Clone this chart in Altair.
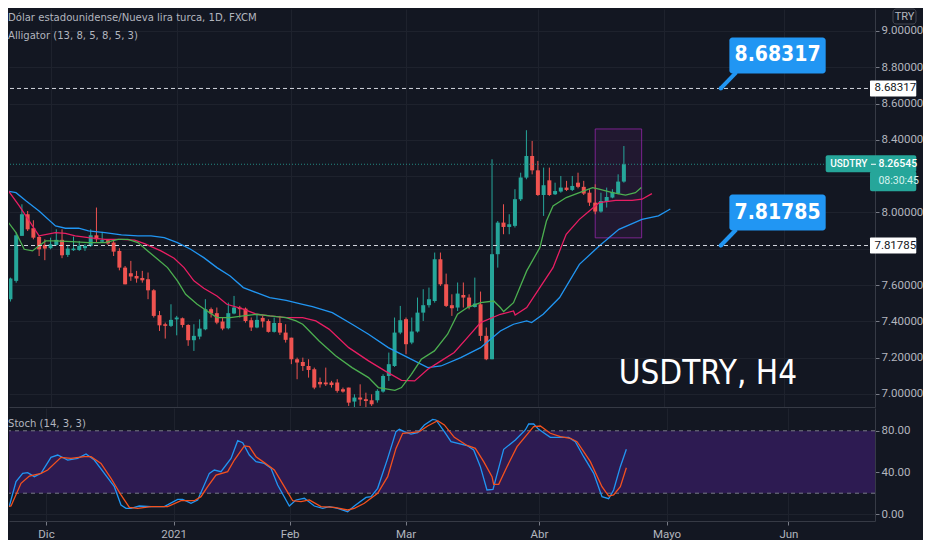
import altair as alt
import pandas as pd

BG = "#131722"
UP = "#26a69a"
DOWN = "#ef5350"
NARROW = "DejaVu Sans Condensed, DejaVu Sans, sans-serif"

# ---------------- candle data (daily bars, index 0 = 1 Dic 2020) ----------------
first_k = -8
opens = [7.687, 7.522, 7.623, 7.871, 7.990, 7.913, 7.865, 7.821, 7.803, 7.821,
         7.849, 7.766, 7.792, 7.793, 7.803, 7.816, 7.874, 7.839, 7.847, 7.834,
         7.788, 7.696, 7.665, 7.650, 7.639, 7.632, 7.571, 7.434, 7.384, 7.375,
         7.411, 7.417, 7.380, 7.296, 7.316, 7.356, 7.467, 7.445, 7.399, 7.362,
         7.443, 7.476, 7.470, 7.406, 7.366, 7.419, 7.402, 7.342, 7.391, 7.338,
         7.310, 7.191, 7.176, 7.154, 7.136, 7.066, 7.063, 7.063, 7.063, 7.026,
         7.035, 6.958, 6.980, 6.971, 6.965, 6.965, 7.013, 7.099, 7.154, 7.338,
         7.412, 7.283, 7.344, 7.448, 7.489, 7.512, 7.742, 7.604, 7.489, 7.476,
         7.545, 7.531, 7.479, 7.494, 7.320, 7.191, 7.770, 7.944, 7.920, 7.926,
         8.073, 8.192, 8.311, 8.232, 8.096, 8.177, 8.100, 8.115, 8.137, 8.124,
         8.164, 8.141, 8.109, 8.054, 8.005, 8.060, 8.082, 8.104, 8.170]
highs = [7.696, 7.641, 7.889, 8.045, 8.008, 7.957, 7.871, 7.852, 7.861, 7.907,
         7.907, 7.821, 7.867, 7.843, 7.825, 7.907, 8.027, 7.893, 7.852, 7.852,
         7.803, 7.705, 7.733, 7.678, 7.678, 7.669, 7.577, 7.457, 7.393, 7.494,
         7.430, 7.421, 7.384, 7.384, 7.411, 7.522, 7.476, 7.476, 7.421, 7.503,
         7.540, 7.485, 7.476, 7.421, 7.439, 7.430, 7.411, 7.421, 7.430, 7.384,
         7.310, 7.200, 7.200, 7.191, 7.145, 7.090, 7.145, 7.072, 7.081, 7.035,
         7.035, 6.998, 7.053, 7.007, 6.998, 7.026, 7.108, 7.228, 7.421, 7.485,
         7.421, 7.421, 7.531, 7.577, 7.586, 7.779, 7.779, 7.663, 7.549, 7.614,
         7.614, 7.549, 7.641, 7.564, 7.366, 8.293, 7.953, 8.045, 7.990, 8.128,
         8.219, 8.453, 8.394, 8.284, 8.247, 8.247, 8.164, 8.201, 8.174, 8.201,
         8.219, 8.174, 8.128, 8.155, 8.109, 8.137, 8.128, 8.210, 8.366]
lows = [7.512, 7.509, 7.613, 7.871, 7.898, 7.852, 7.760, 7.737, 7.797, 7.816,
        7.748, 7.755, 7.788, 7.788, 7.788, 7.810, 7.834, 7.834, 7.821, 7.760,
        7.681, 7.604, 7.623, 7.613, 7.613, 7.522, 7.421, 7.347, 7.305, 7.369,
        7.323, 7.366, 7.265, 7.237, 7.301, 7.351, 7.421, 7.384, 7.351, 7.356,
        7.439, 7.421, 7.393, 7.347, 7.362, 7.366, 7.338, 7.338, 7.325, 7.283,
        7.164, 7.081, 7.127, 7.090, 7.026, 7.035, 7.044, 7.035, 7.007, 7.007,
        6.934, 6.928, 6.934, 6.925, 6.934, 6.952, 7.007, 7.072, 7.149, 7.329,
        7.219, 7.274, 7.338, 7.402, 7.476, 7.503, 7.595, 7.479, 7.430, 7.457,
        7.476, 7.466, 7.476, 7.292, 7.186, 7.191, 7.696, 7.880, 7.880, 7.917,
        8.063, 8.183, 8.210, 8.091, 7.981, 8.091, 8.096, 8.109, 8.118, 8.118,
        8.133, 8.096, 8.036, 7.990, 7.999, 8.027, 8.078, 8.100, 8.164]
closes = [7.525, 7.636, 7.874, 7.990, 7.907, 7.861, 7.797, 7.801, 7.825, 7.849,
          7.764, 7.801, 7.801, 7.816, 7.816, 7.874, 7.852, 7.847, 7.829, 7.784,
          7.696, 7.604, 7.647, 7.636, 7.626, 7.571, 7.430, 7.378, 7.375, 7.408,
          7.421, 7.380, 7.296, 7.320, 7.360, 7.467, 7.443, 7.393, 7.360, 7.445,
          7.476, 7.467, 7.402, 7.366, 7.408, 7.399, 7.342, 7.391, 7.338, 7.298,
          7.191, 7.173, 7.154, 7.132, 7.035, 7.053, 7.053, 7.049, 7.017, 7.013,
          6.952, 6.980, 6.969, 6.961, 6.943, 7.017, 7.099, 7.164, 7.338, 7.406,
          7.274, 7.344, 7.448, 7.489, 7.522, 7.742, 7.604, 7.485, 7.472, 7.553,
          7.531, 7.479, 7.498, 7.320, 7.191, 7.770, 7.944, 7.920, 7.935, 8.073,
          8.192, 8.311, 8.232, 8.096, 8.150, 8.096, 8.118, 8.137, 8.124, 8.146,
          8.141, 8.104, 8.054, 8.005, 8.063, 8.085, 8.113, 8.170, 8.265]

# ---------------- Alligator ----------------
jaw_k = [-7.76, -6.03, -4.31, -2.01, 0.86, 2.59, 4.89, 6.61, 9.48, 12.36, 15.23, 17.53,
         19.83, 22.13, 24.43, 26.72, 29.02, 31.32, 33.62, 35.92, 38.22, 41.09, 43.97,
         45.69, 49.14, 52.59, 55.46, 58.91, 62.36, 65.80, 68.10, 71.55, 75.0, 78.45,
         80.75, 83.05, 83.91, 85.92, 88.79, 92.24, 95.69, 99.14, 103.16, 106.03, 108.1]
jaw_p = [8.119, 8.109, 8.064, 8.008, 7.926, 7.913, 7.913, 7.898, 7.889, 7.876, 7.871, 7.871,
         7.861, 7.834, 7.797, 7.751, 7.696, 7.650, 7.586, 7.558, 7.531, 7.516, 7.494,
         7.481, 7.448, 7.384, 7.329, 7.255, 7.200, 7.145, 7.154, 7.200, 7.255, 7.347,
         7.384, 7.402, 7.393, 7.439, 7.531, 7.714, 7.815, 7.907, 7.962, 7.981, 8.019]
teeth_k = [-7.76, -5.46, -2.01, 0.86, 2.59, 4.31, 6.61, 9.48, 12.36, 14.66, 16.38, 19.25,
           21.55, 23.28, 25.0, 26.72, 29.02, 30.75, 33.62, 35.92, 38.22, 41.09, 43.97,
           46.26, 48.56, 52.01, 55.46, 58.33, 61.21, 63.51, 65.80, 68.10, 70.40, 72.70,
           75.0, 78.45, 80.75, 81.03, 83.05, 85.34, 87.64, 89.94, 92.24, 93.97, 95.69,
           98.56, 101.44, 103.16, 104.89]
teeth_p = [8.137, 8.036, 7.871, 7.889, 7.885, 7.871, 7.861, 7.852, 7.852, 7.847, 7.828, 7.788,
           7.748, 7.696, 7.623, 7.582, 7.540, 7.494, 7.467, 7.439, 7.430, 7.421, 7.421,
           7.402, 7.357, 7.255, 7.182, 7.127, 7.075, 7.072, 7.136, 7.182, 7.228, 7.310,
           7.393, 7.439, 7.457, 7.435, 7.476, 7.586, 7.696, 7.880, 7.962, 8.008, 8.054,
           8.067, 8.067, 8.073, 8.104]
lips_k = [-7.76, -6.03, -4.60, -3.16, -2.01, -0.86, 0.86, 3.74, 6.61, 9.48, 11.78, 13.51,
          15.23, 16.95, 18.68, 20.40, 22.13, 23.56, 25.57, 27.30, 29.02, 31.32, 33.62,
          35.92, 38.22, 41.09, 42.82, 43.97, 44.54, 45.69, 46.84, 49.71, 52.59, 55.46,
          57.18, 60.06, 61.21, 62.93, 64.66, 66.95, 69.25, 70.98, 72.70, 75.0, 77.30,
          78.45, 79.02, 80.75, 83.05, 85.34, 86.49, 87.64, 89.94, 92.24, 94.54, 95.69,
          97.99, 100.29, 102.01, 103.05]
lips_p = [7.962, 7.889, 7.797, 7.788, 7.816, 7.843, 7.843, 7.839, 7.834, 7.834, 7.852, 7.852,
          7.834, 7.788, 7.742, 7.696, 7.623, 7.549, 7.494, 7.457, 7.421, 7.421, 7.430,
          7.439, 7.430, 7.421, 7.402, 7.384, 7.366, 7.329, 7.292, 7.210, 7.145, 7.090,
          7.035, 7.020, 7.035, 7.108, 7.191, 7.237, 7.329, 7.439, 7.476, 7.503, 7.512,
          7.476, 7.454, 7.503, 7.678, 7.806, 7.953, 8.036, 8.082, 8.109, 8.137, 8.128,
          8.109, 8.096, 8.109, 8.137]

# ---------------- Stochastic (14, 3, 3) ----------------
stk_k = [-7.76, -6.32, -5.17, -4.02, -3.16, -2.01, -0.86, 0.86, 2.01, 3.74, 5.46, 6.90,
         8.33, 10.06, 11.78, 12.93, 13.79, 14.66, 16.09, 18.10, 20.40, 22.70, 23.56,
         25.0, 26.15, 28.16, 29.02, 30.17, 31.90, 33.05, 33.91, 35.06, 36.21, 37.64,
         38.79, 39.94, 41.95, 43.10, 44.54, 46.26, 47.70, 48.85, 50.29, 52.01, 53.16,
         55.17, 56.03, 57.18, 58.91, 60.34, 60.92, 61.78, 62.93, 64.08, 65.23, 66.67,
         67.24, 68.68, 69.83, 72.59, 73.74, 74.89, 76.03, 77.07, 78.91, 80.92, 82.64,
         83.22, 84.08, 84.94, 86.95, 88.68, 90.11, 91.26, 92.70, 94.43, 95.86, 97.01,
         97.87, 99.02, 100.06]
stk_v = [7.1, 7.7, 31.1, 39.1, 39.7, 35.9, 39.1, 54.5, 56.7, 51.9, 53.5, 57.7,
         51.9, 39.1, 26.3, 8.7, 5.5, 5.5, 7.7, 7.1, 7.1, 14.1, 14.1,
         10.3, 13.5, 39.1, 42.3, 40.7, 53.5, 70.5, 68.6, 56.7, 50.3, 48.7,
         43.9, 27.9, 7.7, 13.5, 15.1, 7.7, 5.5, 7.1, 5.5, 2.2, 7.7,
         16.0, 16.7, 24.7, 53.5, 79.2, 81.4, 79.2, 76.9, 78.2, 85.6, 91.0,
         90.4, 79.2, 69.5, 65.8, 61.5, 45.5, 23.1, 23.7, 62.2, 71.2, 80.8,
         86.5, 86.5, 81.4, 73.7, 73.7, 73.7, 69.5, 55.1, 39.1, 16.7, 14.7,
         23.1, 45.5, 62.2]
std_k = [-7.76, -6.03, -4.31, -2.87, -0.86, 0.29, 2.59, 4.31, 6.61, 7.76, 9.48, 11.21,
         12.93, 14.37, 15.80, 18.10, 20.98, 23.28, 25.57, 26.72, 27.87, 29.31, 31.32,
         32.47, 34.20, 35.06, 36.21, 37.64, 39.37, 41.09, 42.53, 43.97, 45.40, 47.41,
         49.71, 52.01, 53.16, 54.89, 56.03, 57.18, 58.91, 60.34, 61.49, 62.93, 64.37,
         65.80, 67.53, 68.68, 70.40, 72.59, 74.02, 75.46, 76.90, 77.18, 78.05, 79.48,
         81.21, 82.64, 84.08, 85.23, 86.95, 88.68, 90.40, 91.55, 93.85, 95.86, 97.01,
         97.87, 99.02, 100.06]
std_v = [6.4, 7.7, 29.5, 36.5, 39.1, 42.3, 54.5, 53.5, 55.1, 55.1, 48.7, 34.3,
         18.3, 6.4, 5.5, 7.1, 7.1, 12.8, 12.8, 16.7, 26.3, 37.5, 40.7,
         51.9, 65.4, 64.7, 55.1, 49.4, 42.3, 26.3, 12.8, 11.9, 13.5, 7.1,
         6.4, 3.9, 5.5, 10.3, 15.1, 19.9, 35.9, 63.1, 77.6, 78.2, 79.2,
         84.6, 89.7, 85.6, 73.7, 65.9, 63.1, 50.3, 35.9, 28.5, 28.5, 45.5,
         64.7, 74.4, 84.0, 84.6, 77.6, 74.4, 72.8, 69.5, 50.3, 26.3, 17.3,
         18.3, 26.3, 44.5]

# ---------------- axes / levels ----------------
month_ticks = [0, 22, 42, 62, 85, 107, 128]
month_labels = ["Dic", "2021", "Feb", "Mar", "Abr", "Mayo", "Jun"]
price_ticks = [7.0, 7.2, 7.4, 7.6, 7.8, 8.0, 8.2, 8.4, 8.6, 8.8, 9.0]
hidden_price_labels = [7.8, 8.2]
stoch_ticks = [0, 40, 80]
stoch_band = [20, 80]
level_prices = [8.68317, 7.81785]
level_labels = ["8.68317", "7.81785"]
last_price = 8.26545
symbol = "USDTRY"
countdown = "08:30:45"
zone_k = [95.0, 103.1]
zone_p = [7.860, 8.460]

X_DOMAIN = [-6.38, 142.93]
P_DOMAIN = [6.928, 9.121]
S_DOMAIN = [-6.7, 101.9]
W = 866

# ---------------- frames ----------------
candles = pd.DataFrame({
    "k": list(range(first_k, first_k + len(opens))),
    "open": opens, "high": highs, "low": lows, "close": closes,
})
gator = pd.concat([
    pd.DataFrame({"k": jaw_k, "p": jaw_p, "s": "jaw"}),
    pd.DataFrame({"k": teeth_k, "p": teeth_p, "s": "teeth"}),
    pd.DataFrame({"k": lips_k, "p": lips_p, "s": "lips"}),
])
levels = pd.DataFrame({"p": level_prices, "label": level_labels})
stoch = pd.concat([
    pd.DataFrame({"k": stk_k, "v": stk_v, "s": "K"}),
    pd.DataFrame({"k": std_k, "v": std_v, "s": "D"}),
])

xscale = alt.Scale(domain=X_DOMAIN, nice=False, zero=False)
pscale = alt.Scale(domain=P_DOMAIN, nice=False, zero=False)
sscale = alt.Scale(domain=S_DOMAIN, nice=False, zero=False)


def month_expr():
    e = "''"
    for t, l in reversed(list(zip(month_ticks, month_labels))):
        e = f"datum.value == {t} ? '{l}' : {e}"
    return e


hide = " || ".join(f"abs(datum.value - {v}) < 0.001" for v in hidden_price_labels)

x_axis_main = alt.Axis(values=month_ticks, labels=False, ticks=False, grid=True,
                       domain=True, title=None)
x_axis_stoch = alt.Axis(values=month_ticks, labelExpr=month_expr(), ticks=True,
                        tickSize=4, grid=True, domain=True, title=None,
                        labelPadding=3)
p_axis = alt.Axis(orient="right", values=price_ticks, grid=True, domain=True,
                  tickSize=4, labelPadding=2, title=None,
                  labelExpr=f"({hide}) ? '' : format(datum.value, '.5f')")
s_axis = alt.Axis(orient="right", values=stoch_ticks, grid=True, domain=True,
                  tickSize=4, labelPadding=2, title=None, format=".2f")


def XM(f="k"):
    return alt.X(f"{f}:Q", scale=xscale, axis=x_axis_main)


def YP(f="p"):
    return alt.Y(f"{f}:Q", scale=pscale, axis=p_axis)


def XS(f="k"):
    return alt.X(f"{f}:Q", scale=xscale, axis=x_axis_stoch)


def YS(f="v"):
    return alt.Y(f"{f}:Q", scale=sscale, axis=s_axis)


candle_color = alt.condition("datum.close >= datum.open", alt.value(UP), alt.value(DOWN))

wicks = alt.Chart(candles).mark_rule(strokeWidth=1, clip=True).encode(
    x=XM(), y=YP("low"), y2=alt.Y2("high:Q"), color=candle_color)
bodies = alt.Chart(candles).mark_bar(size=4, clip=True).encode(
    x=XM(), y=YP("open"), y2=alt.Y2("close:Q"), color=candle_color)

gator_lines = []
for name, col in [("jaw", "#2196f3"), ("teeth", "#e91e63"), ("lips", "#4caf50")]:
    gator_lines.append(
        alt.Chart(gator).transform_filter(f"datum.s == '{name}'")
        .mark_line(color=col, strokeWidth=1.3, clip=True)
        .encode(x=XM(), y=YP())
    )

level_lines = alt.Chart(levels).mark_rule(color="#d1d4dc", strokeDash=[4, 3],
                                          strokeWidth=1).encode(y=YP())
last_df = pd.DataFrame({"p": [last_price], "sym": [symbol],
                        "txt": [f"{last_price:.5f}"], "cd": [countdown]})
last_line = alt.Chart(last_df).mark_rule(color=UP, strokeDash=[1, 2],
                                         strokeWidth=1, opacity=0.8).encode(y=YP())

zone_df = pd.DataFrame({"k0": [zone_k[0]], "k1": [zone_k[1]],
                        "p0": [zone_p[0]], "p1": [zone_p[1]]})
zone = alt.Chart(zone_df).mark_rect(fill="#9c27b0", fillOpacity=0.10,
                                    stroke="#9c27b0", strokeOpacity=0.75,
                                    strokeWidth=1).encode(
    x=XM("k0"), x2=alt.X2("k1:Q"), y=YP("p0"), y2=alt.Y2("p1:Q"))

# callouts anchored on the two levels
ANCHOR_K, TIP_K, BOX_K0, BOX_K1, TEXT_K = 116.9, 119.6, 118.4, 135.2, 126.8
callout = alt.Chart(levels).transform_calculate(
    ka=str(ANCHOR_K), kt=str(TIP_K), kb0=str(BOX_K0), kb1=str(BOX_K1), kx=str(TEXT_K),
    ax0="142.93", ax1="151.0", axt="143.7")
c_box = callout.mark_rect(color="#2196f3", cornerRadius=3, yOffset=-51,
                          y2Offset=-15).encode(
    x=XM("kb0"), x2=alt.X2("kb1:Q"), y=YP(), y2=alt.Y2("p:Q"))
c_ptr = callout.mark_rule(color="#2196f3", strokeWidth=4, y2Offset=-16).encode(
    x=XM("ka"), x2=alt.X2("kt:Q"), y=YP(), y2=alt.Y2("p:Q"))
c_dot = callout.mark_point(color="#2196f3", filled=True, size=18, opacity=1).encode(
    x=XM("ka"), y=YP())
c_txt = callout.mark_text(color="white", font=NARROW, fontWeight="bold", fontSize=21,
                          baseline="middle", dy=-33).encode(
    x=XM("kx"), y=YP(), text="label:N")
ax_box = callout.mark_rect(color="white", cornerRadius=1, yOffset=-8, y2Offset=8,
                           clip=False).encode(
    x=XM("ax0"), x2=alt.X2("ax1:Q"), y=YP(), y2=alt.Y2("p:Q"))
ax_txt = callout.mark_text(color=BG, font="Roboto", fontSize=11.5, align="left",
                           baseline="middle", clip=False).encode(
    x=XM("axt"), y=YP(), text="label:N")

# last price label
lp = alt.Chart(last_df).transform_calculate(
    a0="135.2", a1="151.0", b0="142.93", t0="143.1", t1="143.97",
    tx="136.0", vx="144.4")
lp_box1 = lp.mark_rect(color=UP, cornerRadius=2, yOffset=-9, y2Offset=8).encode(
    x=XM("a0"), x2=alt.X2("a1:Q"), y=YP(), y2=alt.Y2("p:Q"))
lp_box2 = lp.mark_rect(color=UP, cornerRadius=2, yOffset=7, y2Offset=27).encode(
    x=XM("b0"), x2=alt.X2("a1:Q"), y=YP(), y2=alt.Y2("p:Q"))
lp_sym = lp.mark_text(color="white", font="Roboto", fontSize=10, fontWeight=500,
                      align="left", baseline="middle").encode(
    x=XM("tx"), y=YP(), text="sym:N")
lp_tick = lp.mark_rule(color="white", strokeWidth=1).encode(
    x=XM("t0"), x2=alt.X2("t1:Q"), y=YP())
lp_val = lp.mark_text(color="white", font="Roboto", fontSize=10.5, fontWeight=500,
                      align="left", baseline="middle").encode(
    x=XM("vx"), y=YP(), text="txt:N")
lp_cd = lp.mark_text(color="#d7f2ee", font="Roboto", fontSize=10.5, align="left",
                     baseline="middle", dy=17).encode(x=XM("vx"), y=YP(), text="cd:N")

# big caption
cap_df = pd.DataFrame({"k": [99.1], "p": [7.055], "t": ["USDTRY, H4"]})
caption = alt.Chart(cap_df).mark_text(color="white", font=NARROW, fontSize=33,
                                      align="left", baseline="alphabetic").encode(
    x=XM(), y=YP(), text="t:N")

legend_df = pd.DataFrame({"t": ["Dólar estadounidense/Nueva lira turca, 1D, FXCM",
                                "Alligator (13, 8, 5, 8, 5, 3)"],
                          "row": [0, 1]})
legend1 = alt.Chart(legend_df).transform_filter("datum.row == 0").mark_text(
    color="#b2b5be", font=NARROW, fontSize=11.2, align="left", baseline="middle").encode(
    x=alt.value(-1), y=alt.value(9), text="t:N")
legend2 = alt.Chart(legend_df).transform_filter("datum.row == 1").mark_text(
    color="#b2b5be", font=NARROW, fontSize=11.2, align="left", baseline="middle").encode(
    x=alt.value(-1), y=alt.value(27), text="t:N")

cur_df = pd.DataFrame({"t": ["TRY"]})
try_box = alt.Chart(cur_df).mark_rect(fillOpacity=0, stroke="#434651", strokeWidth=1,
                                      cornerRadius=3, clip=False).encode(
    x=alt.value(884), x2=alt.value(907), y=alt.value(0), y2=alt.value(15))
try_txt = alt.Chart(cur_df).mark_text(color="#b2b5be", font="Roboto", fontSize=11,
                                      baseline="middle", clip=False).encode(
    x=alt.value(895.5), y=alt.value(8), text="t:N")

main = alt.layer(
    zone, wicks, bodies, *gator_lines, level_lines, last_line,
    c_ptr, c_dot, c_box, c_txt, ax_box, ax_txt,
    lp_box1, lp_box2, lp_sym, lp_tick, lp_val, lp_cd,
    caption, legend1, legend2, try_box, try_txt,
).properties(width=W, height=398)

# ---------------- stochastic pane ----------------
band_df = pd.DataFrame({"lo": [stoch_band[0]], "hi": [stoch_band[1]]})
band = alt.Chart(band_df).mark_rect(color="#2d1b52").encode(
    y=YS("lo"), y2=alt.Y2("hi:Q"))
band_lines = alt.Chart(pd.DataFrame({"v": stoch_band})).mark_rule(
    color="#787b86", strokeDash=[4, 4], strokeWidth=1).encode(y=YS())
stk_line = alt.Chart(stoch).transform_filter("datum.s == 'K'").mark_line(
    color="#2196f3", strokeWidth=1.3, clip=True).encode(x=XS(), y=YS())
std_line = alt.Chart(stoch).transform_filter("datum.s == 'D'").mark_line(
    color="#f4511e", strokeWidth=1.3, clip=True).encode(x=XS(), y=YS())
stoch_title = alt.Chart(pd.DataFrame({"t": ["Stoch (14, 3, 3)"]})).mark_text(
    color="#b2b5be", font=NARROW, fontSize=11.2, align="left", baseline="middle").encode(
    x=alt.value(-1), y=alt.value(16), text="t:N")

lower = alt.layer(band, band_lines, stk_line, std_line, stoch_title).properties(
    width=W, height=113)

chart = alt.vconcat(main, lower, spacing=1).properties(
    background=BG, padding=0
).configure_view(strokeWidth=0).configure_axis(
    gridColor="#1e222d", gridWidth=1, domainColor="#363a45", tickColor="#787b86",
    labelColor="#b2b5be", labelFont="Roboto", labelFontSize=11.5,
)

chart.save("out.html", embed_options={"renderer": "svg", "actions": False})
